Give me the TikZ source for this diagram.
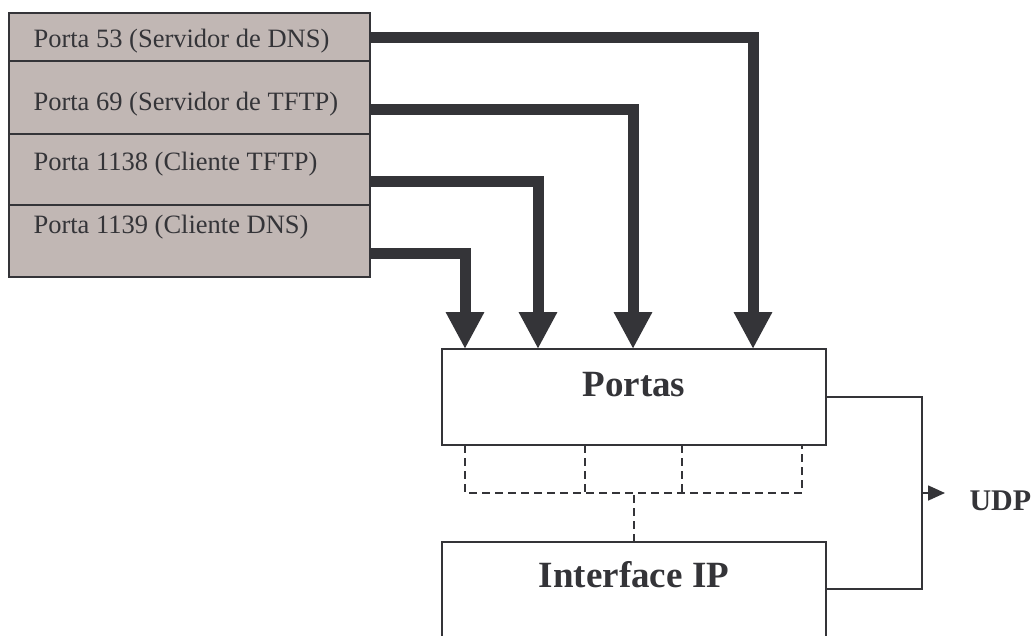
\documentclass[tikz,border=0pt]{standalone}
\usepackage{fontspec}
\setmainfont{Liberation Serif}
\usetikzlibrary{arrows.meta}
\definecolor{ink}{RGB}{52,52,56}
\definecolor{portfill}{RGB}{193,183,180}

\begin{document}
\begin{tikzpicture}[x=1pt,y=-1pt]
        \tikzset{row/.style={draw=ink,fill=portfill,line width=1.3pt,minimum width=361pt,
                inner sep=0pt,outer sep=0pt,anchor=north west},
            portlabel/.style={anchor=base west,text=ink,font=\fontsize{26.5}{30}\selectfont},
            layer/.style={draw=ink,line width=1.6pt,minimum width=384pt,inner sep=0pt,outer sep=0pt,
                anchor=north west,text=ink,font=\fontsize{37}{40}\selectfont\bfseries,text height=26pt},
            flow/.style={draw=ink,line width=11pt,-{Triangle[width=36pt,length=37pt]}},
            bus/.style={draw=ink,line width=1.7pt,dash pattern=on 8pt off 5pt},
            link/.style={draw=ink,line width=1.6pt}}
        \useasboundingbox (0,0) rectangle (1035,635);
        % port table
        \node[row,minimum height=48pt] (p53) at (9,13) {};
        \node[row,minimum height=73pt] (p69) at (9,61) {};
        \node[row,minimum height=71pt] (p1138) at (9,134) {};
        \node[row,minimum height=72pt] (p1139) at (9,205) {};
        \node[portlabel] (t53) at (30,47) {Porta 53 (Servidor de DNS)};
        \node[portlabel] (t69) at (30,110) {Porta 69 (Servidor de TFTP)};
        \node[portlabel] (t1138) at (30,170) {Porta 1138 (Cliente TFTP)};
        \node[portlabel] (t1139) at (30,233) {Porta 1139 (Cliente DNS)};
        % layers
        \node[layer,minimum height=96pt,text depth=28pt] (ports) at (442,349) {Portas};
        \node[layer,minimum height=140pt,text depth=76pt] (ip) at (442,542) {Interface IP};
        \node[anchor=base west,text=ink,font=\fontsize{30}{32}\selectfont\bfseries] (udp) at (966,510) {UDP};
        \draw[flow] (p53.east) -| ([xshift=311pt]ports.north west);
        \draw[flow] ([yshift=-12pt]p69.east) -| ([xshift=191pt]ports.north west);
        \draw[flow] ([yshift=-12pt]p1138.east) -| ([xshift=96pt]ports.north west);
        \draw[flow] ([yshift=-12pt]p1139.east) -| ([xshift=23pt]ports.north west);
        % demultiplexing
        \draw[bus] ([xshift=23pt]ports.south west) -- ++(0,48) -| ([xshift=-24pt]ports.south east);
        \draw[bus] ([xshift=143pt]ports.south west) -- ++(0,48);
        \draw[bus] ([xshift=240pt]ports.south west) -- ++(0,48);
        \draw[bus] (ip.north) -- ++(0,-49);
        \coordinate (bar) at (922,493);
        \coordinate (udptip) at (945,493);
        \draw[link] (ports.east) -| (bar) |- ([yshift=-47pt]ip.north east);
        \draw[link,-{Triangle[width=15pt,length=17pt]}] (bar) -- (udptip);
\end{tikzpicture}
\end{document}
